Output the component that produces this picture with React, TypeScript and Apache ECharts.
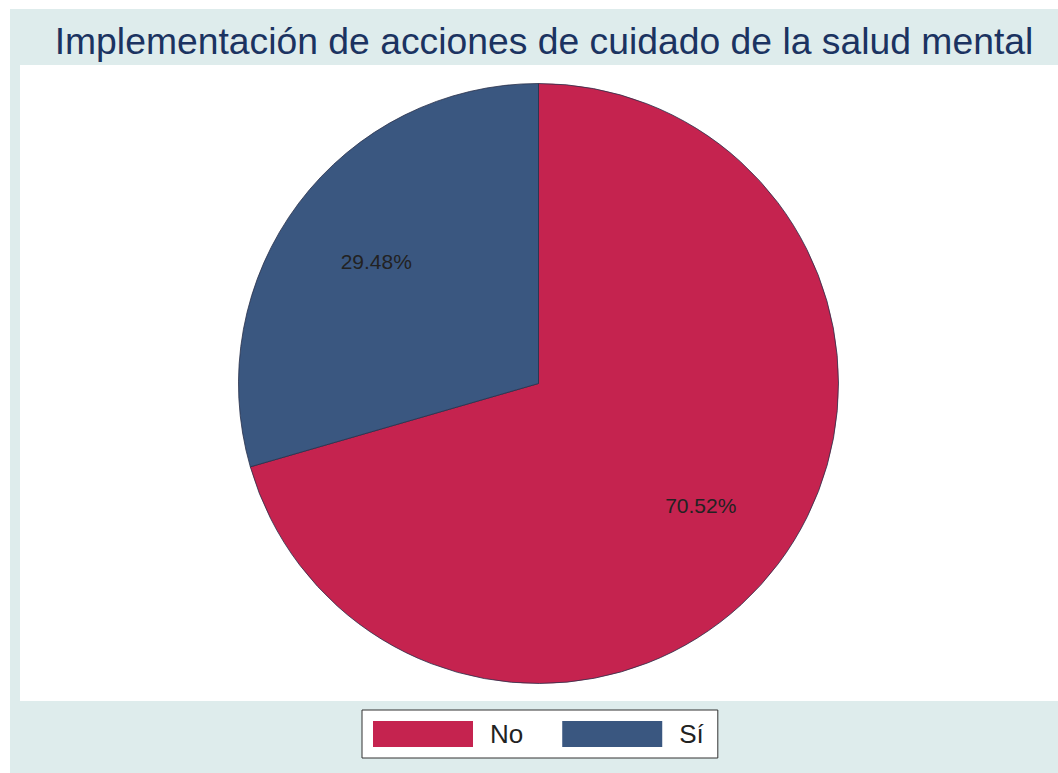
import React, { useEffect, useRef } from "react";
import * as echarts from "echarts";

const categories = ["No", "Sí"];
const values = [70.52, 29.48];
const colors = ["#c5234f", "#3a5780"];
const titleText = "Implementación de acciones de cuidado de la salud mental";

export default function App() {
  const ref = useRef<HTMLDivElement>(null);
  useEffect(() => {
    if (!ref.current) return;
    const chart = echarts.init(ref.current, null, { renderer: "svg" });
    const data = categories.map((c, i) => ({ name: c, value: values[i], itemStyle: { color: colors[i] } }));
    chart.setOption({
      animation: false,
      backgroundColor: "#ffffff",
      title: {
        text: titleText,
        left: 544,
        top: 22,
        padding: 0,
        textAlign: "center",
        textStyle: { fontFamily: "Liberation Sans, Arial, sans-serif", fontSize: 37.3, fontWeight: "normal", color: "#1b3361" },
      },
      graphic: [
        { type: "rect", z: -10, silent: true, shape: { x: 10, y: 9, width: 1048, height: 764 }, style: { fill: "#deecec" } },
        { type: "rect", z: -9, silent: true, shape: { x: 20, y: 65, width: 1038, height: 636 }, style: { fill: "#ffffff" } },
      ],
      legend: {
        data: categories,
        left: 362,
        top: 710,
        orient: "horizontal",
        icon: "rect",
        itemWidth: 100,
        itemHeight: 26,
        itemGap: 39,
        padding: [11, 14, 11, 11],
        backgroundColor: "#ffffff",
        borderColor: "#333333",
        borderWidth: 1,
        borderRadius: 0,
        itemStyle: { borderWidth: 0 },
        textStyle: { fontFamily: "Liberation Sans, Arial, sans-serif", fontSize: 26, color: "#222222", padding: [0, 0, 0, 12] },
        selectedMode: false,
      },
      series: [
        {
          type: "pie",
          center: [538.5, 383.5],
          radius: 300,
          startAngle: 90,
          clockwise: true,
          silent: true,
          label: { show: false },
          labelLine: { show: false },
          itemStyle: { borderColor: "#28304a", borderWidth: 0.8 },
          data,
        },
        {
          type: "pie",
          center: [538.5, 383.5],
          radius: [0, 400],
          startAngle: 90,
          clockwise: true,
          silent: true,
          z: 5,
          itemStyle: { color: "rgba(0,0,0,0)", borderWidth: 0 },
          label: {
            show: true,
            position: "inside",
            formatter: (p: any) => `${Number(p.value).toFixed(2)}%`,
            fontFamily: "Liberation Sans, Arial, sans-serif",
            fontSize: 21,
            color: "#222222",
          },
          labelLine: { show: false },
          data: categories.map((c, i) => ({ name: c, value: values[i], itemStyle: { color: "rgba(0,0,0,0)" } })),
        },
      ],
    });
    return () => chart.dispose();
  }, []);
  return <div ref={ref} style={{ position: "absolute", left: 0, top: 0, width: 1058, height: 773 }} />;
}
